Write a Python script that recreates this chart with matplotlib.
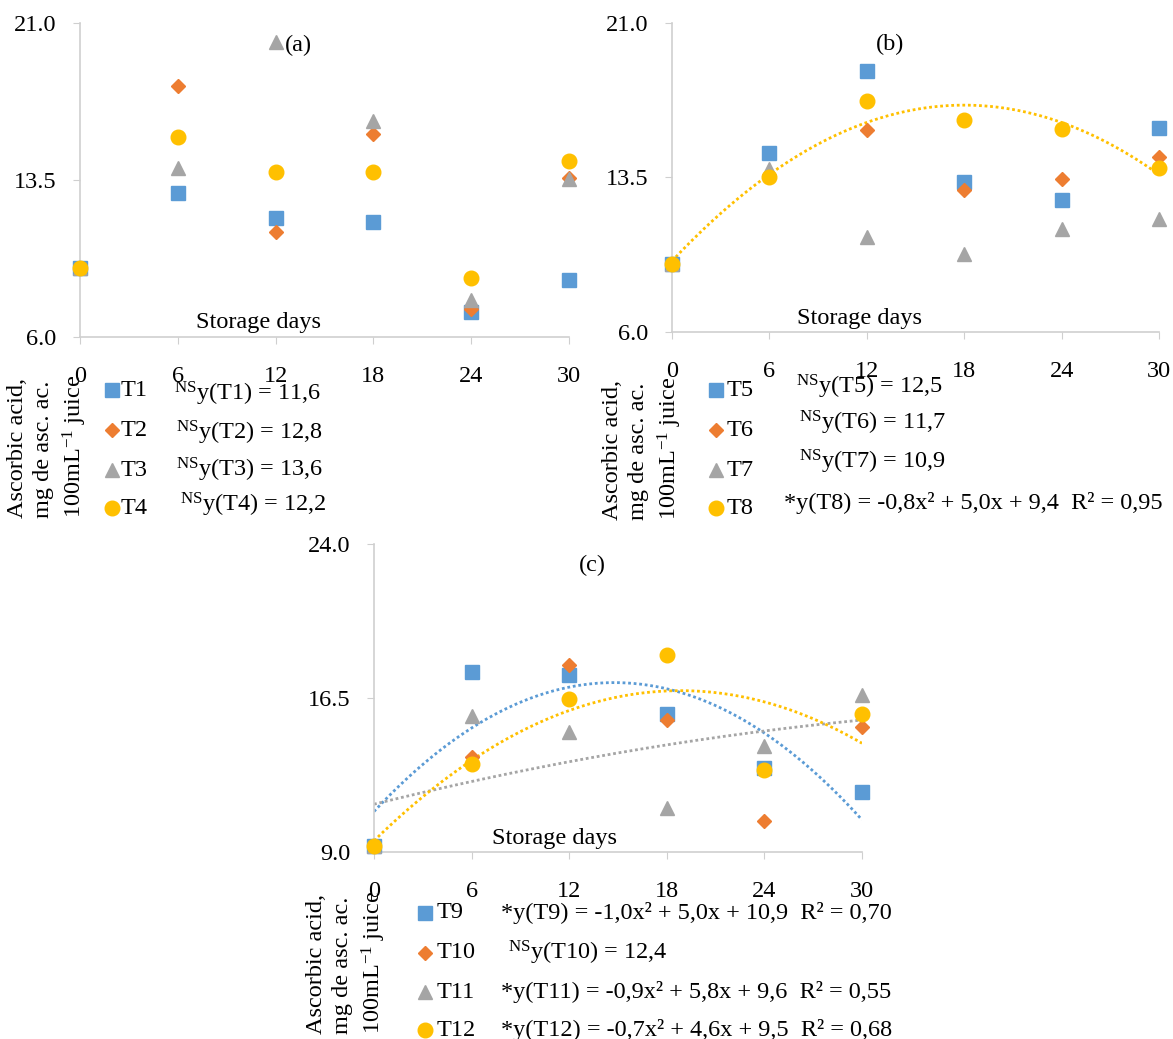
import numpy as np
import matplotlib.pyplot as plt
from matplotlib.lines import Line2D

plt.rcParams['font.family'] = ['Liberation Serif', 'DejaVu Serif']
plt.rcParams['mathtext.fontset'] = 'custom'
plt.rcParams['mathtext.rm'] = 'Liberation Serif'
plt.rcParams['mathtext.it'] = 'Liberation Serif:italic'

W, H = 1173, 1039
FS = 17.5

days = [0, 6, 12, 18, 24, 30]

# panel (a)
t1 = [9.3, 12.9, 11.7, 11.5, 7.2, 8.7]
t2 = [9.3, 18.0, 11.0, 15.7, 7.35, 13.6]
t3 = [9.3, 14.05, 20.1, 16.3, 7.75, 13.55]
t4 = [9.3, 15.55, 13.9, 13.9, 8.8, 14.4]
# panel (b)
t5 = [9.3, 14.7, 18.65, 13.3, 12.4, 15.9]
t6 = [9.3, 13.6, 15.8, 12.9, 13.45, 14.5]
t7 = [9.3, 13.9, 10.6, 9.8, 11.0, 11.5]
t8 = [9.3, 13.5, 17.2, 16.3, 15.85, 13.95]
# panel (c)
t9 = [9.3, 17.75, 17.6, 15.7, 13.1, 11.9]
t10 = [9.3, 13.65, 18.1, 15.45, 10.5, 15.1]
t11 = [9.3, 15.6, 14.85, 11.15, 14.15, 16.65]
t12 = [9.3, 13.3, 16.45, 18.6, 13.0, 15.7]

eq_a = [r'$^{\mathrm{NS}}$y(T1) = 11,6', r'$^{\mathrm{NS}}$y(T2) = 12,8',
        r'$^{\mathrm{NS}}$y(T3) = 13,6', r'$^{\mathrm{NS}}$y(T4) = 12,2']
eq_b = [r'$^{\mathrm{NS}}$y(T5) = 12,5', r'$^{\mathrm{NS}}$y(T6) = 11,7',
        r'$^{\mathrm{NS}}$y(T7) = 10,9', '*y(T8) = -0,8x² + 5,0x + 9,4  R² = 0,95']
eq_c = ['*y(T9) = -1,0x² + 5,0x + 10,9  R² = 0,70', r'$^{\mathrm{NS}}$y(T10) = 12,4',
        '*y(T11) = -0,9x² + 5,8x + 9,6  R² = 0,55', '*y(T12) = -0,7x² + 4,6x + 9,5  R² = 0,68']

colors = ['#5B9BD5', '#ED7D31', '#A5A5A5', '#FFC000']
markers = ['s', 'D', '^', 'o']
msizes = [10, 7.5, 10, 10.5]

ylab = 'Ascorbic acid,\nmg de asc. ac.\n100mL$^{-1}$ juice'

fig = plt.figure(figsize=(W / 100, H / 100), dpi=100)


def rect(l, t, r, b):
    return [l / W, 1 - b / H, (r - l) / W, (b - t) / H]


def panel(box, series, names, eqs, yl, title, trend, sd_x, leg, ylab_xy):
    ax = fig.add_axes(rect(*box))
    for i, ys in enumerate(series):
        ax.plot(days, ys, linestyle='none', marker=markers[i], ms=msizes[i],
                color=colors[i], mec=colors[i], clip_on=False, zorder=3)
    xs = np.linspace(0, 30, 200)
    for i in trend:
        c = np.polyfit(days, series[i], 2)
        ax.plot(xs, np.polyval(c, xs), linestyle=(0, (1, 1)), lw=2,
                color=colors[i], zorder=2)
    ax.set_xlim(0, 30)
    ax.set_ylim(yl[0], yl[2])
    ax.set_xticks(days)
    ax.set_yticks(yl)
    ax.set_yticklabels(['%.1f' % v for v in yl])
    for s in ['top', 'right']:
        ax.spines[s].set_visible(False)
    for s in ['left', 'bottom']:
        ax.spines[s].set_color('#CFCFCF')
        ax.spines[s].set_linewidth(1.2)
    ax.tick_params(axis='x', length=5, color='#CFCFCF', pad=16, labelsize=FS)
    ax.tick_params(axis='y', length=5, color='#CFCFCF', pad=12, labelsize=FS)
    ax.text(0.447, 0.93, title, transform=ax.transAxes, ha='center',
            va='center', fontsize=FS)
    ax.text(sd_x, 0.045, 'Storage days', transform=ax.transAxes,
            ha='center', va='center', fontsize=FS)
    mx, lx, eqx, rows, eqy = leg
    for i in range(4):
        fig.add_artist(Line2D([mx / W], [1 - rows[i] / H], transform=fig.transFigure,
                              marker=markers[i], ms=msizes[i], color=colors[i],
                              linestyle='none'))
        fig.text(lx / W, 1 - rows[i] / H, names[i], ha='left', va='center',
                 fontsize=FS)
        fig.text(eqx[i] / W, 1 - eqy[i] / H, eqs[i], ha='left', va='center',
                 fontsize=FS)
    fig.text(ylab_xy[0] / W, 1 - ylab_xy[1] / H, ylab, rotation=90,
             ha='center', va='center', multialignment='left', fontsize=FS,
             linespacing=1.3)
    return ax


panel((80, 23, 569, 337), [t1, t2, t3, t4], ['T1', 'T2', 'T3', 'T4'], eq_a,
      [6.0, 13.5, 21.0], '(a)', [], 0.366,
      (112, 121, [174, 176, 176, 180], [390, 430, 470, 508], [394, 433, 470, 505]),
      (48, 446))
panel((672, 23, 1159, 332), [t5, t6, t7, t8], ['T5', 'T6', 'T7', 'T8'], eq_b,
      [6.0, 13.5, 21.0], '(b)', [3], 0.386,
      (716, 727, [796, 799, 799, 784], [390, 430, 470, 508], [387, 423, 462, 503]),
      (643, 448))
panel((374, 544, 862, 852), [t9, t10, t11, t12], ['T9', 'T10', 'T11', 'T12'], eq_c,
      [9.0, 16.5, 24.0], '(c)', [0, 2, 3], 0.37,
      (425, 437, [501, 508, 501, 501], [913, 953, 992, 1030], [913, 953, 992, 1030]),
      (347, 962))

fig.savefig('out.png', dpi=100)
